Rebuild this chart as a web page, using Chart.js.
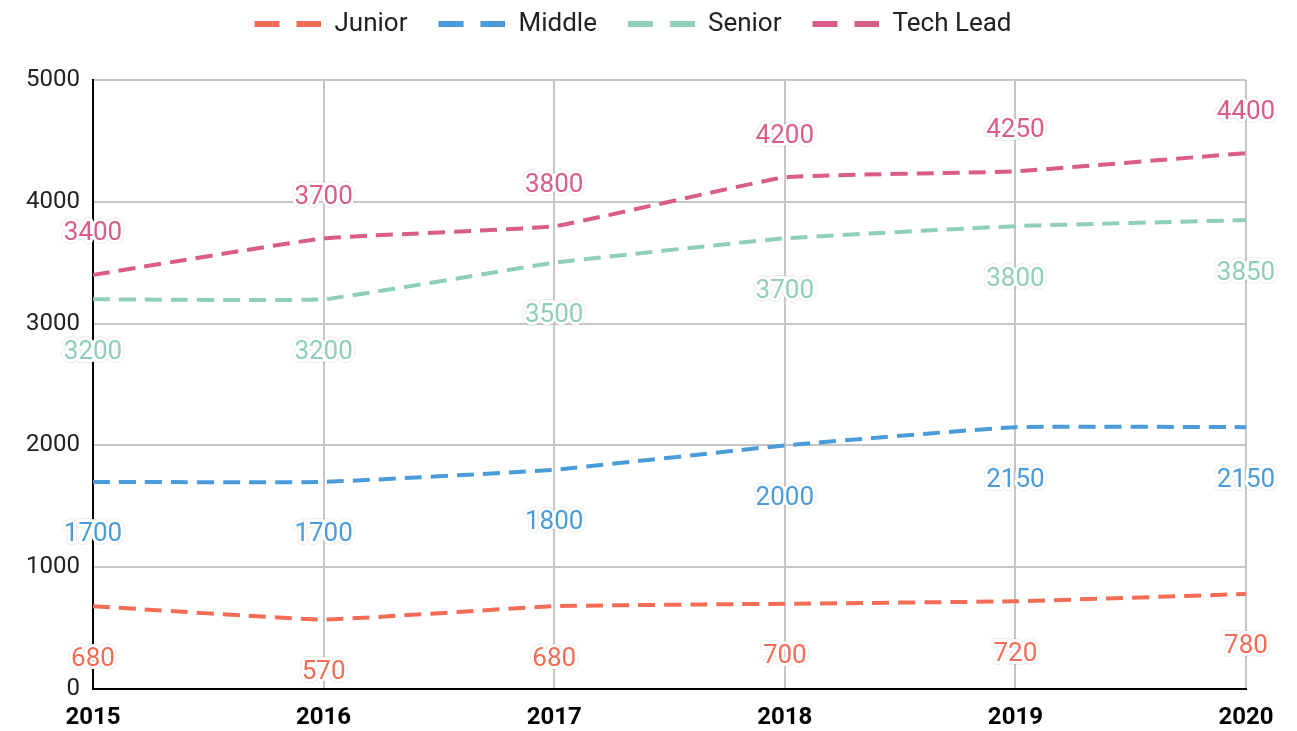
<!DOCTYPE html>
<html>
<head>
<meta charset="utf-8">
<script src="https://cdn.jsdelivr.net/npm/chart.js@4"></script>
<style>
  html, body { margin: 0; padding: 0; background: #ffffff; }
  #wrap { width: 1297px; height: 731px; }
</style>
</head>
<body>
<div id="wrap"><canvas id="chart" width="1297" height="731"></canvas></div>
<script>
const years = ['2015', '2016', '2017', '2018', '2019', '2020'];
const junior = [680, 570, 680, 700, 720, 780];
const middle = [1700, 1700, 1800, 2000, 2150, 2150];
const senior = [3200, 3200, 3500, 3700, 3800, 3850];
const techLead = [3400, 3700, 3800, 4200, 4250, 4400];
const yTicks = [0, 1000, 2000, 3000, 4000, 5000];

const colors = {
    junior: '#f36d56',
    middle: '#4a9bd9',
    senior: '#8fceb7',
    techLead: '#d95d86'
};

// little dashed sample for the legend ("— —")
function legendSample(color) {
    const c = document.createElement('canvas');
    c.width = 87;
    c.height = 8;
    const g = c.getContext('2d');
    g.fillStyle = color;
    g.fillRect(20, 1, 25, 6);
    g.fillRect(62, 1, 25, 6);
    return c;
}

// value labels with a white halo
const valueLabels = {
    id: 'valueLabels',
    afterInit(chart) {
        const legend = chart.legend;
        const fit = legend.fit;
        legend.fit = function () {
            fit.call(this);
            this.height = 80;
        };
    },
    afterDatasetsDraw(chart) {
        const ctx = chart.ctx;
        ctx.save();
        ctx.font = '26px Roboto';
        ctx.textAlign = 'center';
        ctx.textBaseline = 'middle';
        ctx.lineJoin = 'round';
        chart.data.datasets.forEach((ds, i) => {
            const meta = chart.getDatasetMeta(i);
            meta.data.forEach((pt, j) => {
                const txt = String(ds.data[j]);
                const x = pt.x;
                const y = pt.y + ds.labelOffset;
                ctx.lineWidth = 8;
                ctx.strokeStyle = 'rgba(0,0,0,0.07)';
                ctx.strokeText(txt, x, y);
                ctx.lineWidth = 6;
                ctx.strokeStyle = '#ffffff';
                ctx.strokeText(txt, x, y);
                ctx.fillStyle = ds.borderColor;
                ctx.fillText(txt, x, y);
            });
        });
        ctx.restore();
    }
};

function line(label, data, color, labelOffset) {
    return {
        label: label,
        data: data,
        borderColor: color,
        backgroundColor: color,
        borderWidth: 4,
        borderDash: [17, 9],
        borderCapStyle: 'butt',
        pointRadius: 0,
        pointHoverRadius: 0,
        fill: false,
        tension: 0.1,
        pointStyle: legendSample(color),
        labelOffset: labelOffset
    };
}

new Chart(document.getElementById('chart'), {
    type: 'line',
    data: {
        labels: years,
        datasets: [
            line('Junior', junior, colors.junior, 53),
            line('Middle', middle, colors.middle, 53),
            line('Senior', senior, colors.senior, 53),
            line('Tech Lead', techLead, colors.techLead, -41)
        ]
    },
    options: {
        responsive: false,
        animation: false,
        devicePixelRatio: 1,
        layout: { padding: { left: 0, right: 51, top: 0, bottom: 0 } },
        plugins: {
            legend: {
                position: 'top',
                labels: {
                    usePointStyle: true,
                    pointStyleWidth: 87,
                    padding: 11,
                    color: '#222222',
                    font: { family: 'Roboto', size: 26 }
                }
            },
            tooltip: { enabled: false }
        },
        scales: {
            x: {
                offset: false,
                grid: { color: '#c6c6c6', lineWidth: 2, drawTicks: false },
                border: { color: '#000000', width: 2 },
                ticks: {
                    color: '#000000',
                    padding: 15,
                    maxRotation: 0,
                    autoSkip: false,
                    font: { family: 'Roboto', size: 24, weight: 'bold' }
                },
                afterFit: (s) => { s.height = 42; }
            },
            y: {
                min: 0,
                max: 5000,
                grid: { color: '#c6c6c6', lineWidth: 2, drawTicks: false },
                border: { color: '#000000', width: 2 },
                ticks: {
                    color: '#222222',
                    padding: 13,
                    font: { family: 'Roboto', size: 24 },
                    callback: (v) => String(v)
                },
                afterBuildTicks: (s) => { s.ticks = yTicks.map(v => ({ value: v })); },
                afterFit: (s) => { s.width = 93; }
            }
        }
    },
    plugins: [valueLabels]
});
</script>
</body>
</html>
